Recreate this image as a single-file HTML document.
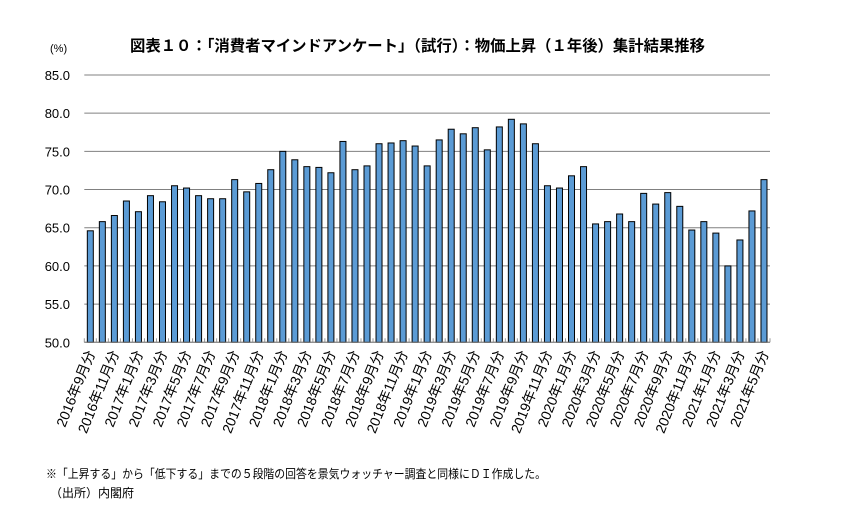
<!DOCTYPE html>
<html><head><meta charset="utf-8"><style>
body{margin:0;background:#fff;}
svg text{font-family:"Liberation Sans","Noto Sans CJK JP",sans-serif;}
</style></head><body>
<svg id="c" width="843" height="505" xmlns="http://www.w3.org/2000/svg"></svg>
<script>
const s=document.getElementById('c');
const v=[64.6,65.8,66.6,68.5,67.1,69.2,68.4,70.5,70.2,69.2,68.8,68.8,71.3,69.7,70.8,72.6,75.0,73.9,73.0,72.9,72.2,76.3,72.6,73.1,76.0,76.1,76.4,75.7,73.1,76.5,77.9,77.3,78.1,75.2,78.2,79.2,78.6,76.0,70.5,70.2,71.8,73.0,65.5,65.8,66.8,65.8,69.5,68.1,69.6,67.8,64.7,65.8,64.3,60.0,63.4,67.2,71.3];
const x0=84.3,x1=770,y85=75,y50=342.3,pu=(y50-y85)/35,bw=(x1-x0)/57;
let h='';
h+='<text x="130" y="51" textLength="575" lengthAdjust="spacingAndGlyphs" font-size="15.5" font-weight="bold" fill="#000">図表１０：「消費者マインドアンケート」（試行）：物価上昇（１年後）集計結果推移</text>';
h+='<text x="50" y="52" font-size="11" fill="#000">(%)</text>';
for(let i=0;i<8;i++){const val=50+i*5,y=y50-i*5*pu;
 h+=`<line x1="${x0}" y1="${y}" x2="${x1}" y2="${y}" stroke="#808080" stroke-width="1"/>`;
 h+=`<text x="70" y="${y+5}" text-anchor="end" font-size="13" fill="#000">${val.toFixed(1)}</text>`;}
for(let i=0;i<=57;i++){const x=x0+i*bw;h+=`<line x1="${x}" y1="${y50-4}" x2="${x}" y2="${y50}" stroke="#999"/>`;}
v.forEach((d,i)=>{const cx=x0+(i+0.5)*bw,y=y50-(d-50)*pu;
 h+=`<rect x="${cx-3}" y="${y}" width="6" height="${y50-y}" fill="#5b9bd5" stroke="#000" stroke-width="1"/>`;
 if(i%2==0){const m=(8+i)%12+1,yr=2016+Math.floor((8+i)/12);
  h+=`<text transform="translate(${cx+5},${353}) rotate(-68)" text-anchor="end" font-size="14" fill="#000">${yr}年${m}月分</text>`;}
});
h+=`<line x1="${x0}" y1="${y50}" x2="${x1}" y2="${y50}" stroke="#808080"/>`;
h+='<text x="46" y="478" textLength="500" lengthAdjust="spacingAndGlyphs" font-size="12" fill="#000">※「上昇する」から「低下する」までの５段階の回答を景気ウォッチャー調査と同様にＤＩ作成した。</text>';
h+='<text x="50" y="497" font-size="12" fill="#000">（出所）内閣府</text>';
s.innerHTML=h;
</script>
</body></html>
